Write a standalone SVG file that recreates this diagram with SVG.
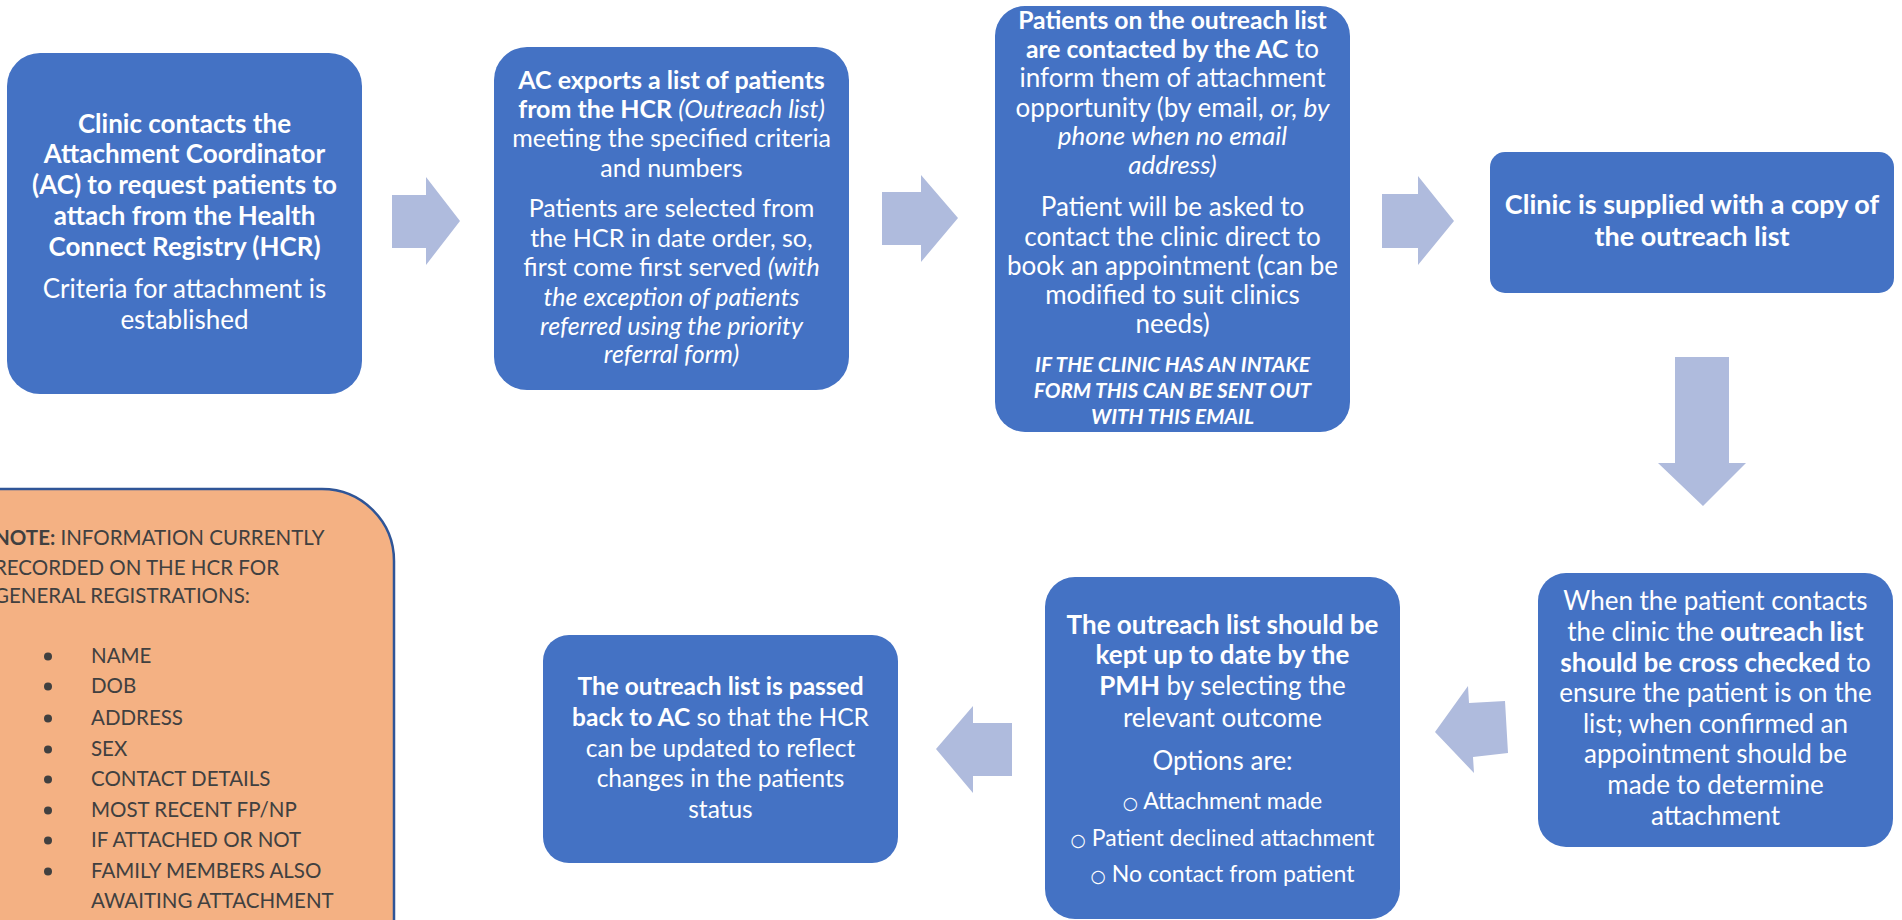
<svg xmlns="http://www.w3.org/2000/svg" width="1902" height="920" viewBox="0 0 1902 920">
<style>
.box{fill:#4472C4}
.arrow{fill:#AFBBDD}
.t{font-family:Lato,'Liberation Sans',sans-serif;font-size:26px;fill:#FFFFFF;text-anchor:middle}
.f25{font-size:25px}
.f247{font-size:24.7px}
.f245{font-size:24.5px}
.opt{font-size:23px}
.b{font-weight:700}
.i{font-style:italic}
.sm{font-size:20.8px}
.big{font-size:27px}
.o{font-family:'DejaVu Sans',sans-serif;font-size:17.5px}
.note{fill:#F4B183;stroke:#2F5597;stroke-width:2.5}
.nt{font-family:Lato,'Liberation Sans',sans-serif;font-size:20.5px;fill:#404040}
.dot{fill:#404040}
</style>
<rect width="1902" height="920" fill="#FFFFFF"/>

<g id="connectors">
  <polygon class="arrow" points="392,195 426,195 426,177 460,221 426,265 426,248 392,248"/>
  <polygon class="arrow" points="882,192 921,192 921,175 958,218 921,262 921,245 882,245"/>
  <polygon class="arrow" points="1382,194 1418,194 1418,176 1454,221 1418,265 1418,248 1382,248"/>
  <polygon class="arrow" points="1675,357 1729,357 1729,463 1746,463 1703,506 1658,463 1675,463"/>
  <polygon class="arrow" points="1435,732 1468,686 1469,703 1505,701 1508,753 1473,757 1474,773"/>
  <polygon class="arrow" points="1012,723 973,723 973,706 936,749 973,793 973,776 1012,776"/>
</g>

<g id="node-clinic-contacts">
  <rect class="box" x="7" y="53" width="355" height="341" rx="33"/>
  <text class="t b" x="184.5" y="133">Clinic contacts the</text>
  <text class="t b" x="184.5" y="163">Attachment Coordinator</text>
  <text class="t b" x="184.5" y="194">(AC) to request patients to</text>
  <text class="t b" x="184.5" y="225">attach from the Health</text>
  <text class="t b" x="184.5" y="256">Connect Registry (HCR)</text>
  <text class="t" x="184.5" y="298">Criteria for attachment is</text>
  <text class="t" x="184.5" y="329">established</text>
</g>

<g id="node-ac-exports">
  <rect class="box" x="494" y="47" width="355" height="343" rx="33"/>
  <text class="t f25 b" x="671.5" y="89">AC exports a list of patients</text>
  <text class="t f25" x="671.5" y="118"><tspan class="b">from the HCR </tspan><tspan class="i">(Outreach list)</tspan></text>
  <text class="t f25" x="671.5" y="147">meeting the specified criteria</text>
  <text class="t f25" x="671.5" y="177">and numbers</text>
  <text class="t f25" x="671.5" y="217">Patients are selected from</text>
  <text class="t f25" x="671.5" y="247">the HCR in date order, so,</text>
  <text class="t f25" x="671.5" y="276">first come first served <tspan class="i">(with</tspan></text>
  <text class="t f25 i" x="671.5" y="306">the exception of patients</text>
  <text class="t f25 i" x="671.5" y="335">referred using the priority</text>
  <text class="t f25 i" x="671.5" y="363">referral form)</text>
</g>

<g id="node-patients-contacted">
  <rect class="box" x="995" y="6" width="355" height="426" rx="30"/>
  <text class="t b f247" x="1172.5" y="29">Patients on the outreach list</text>
  <text class="t" x="1172.5" y="58"><tspan class="b f247">are contacted by the AC</tspan> to</text>
  <text class="t" x="1172.5" y="87">inform them of attachment</text>
  <text class="t" x="1172.5" y="117">opportunity (by email, <tspan class="i">or, by</tspan></text>
  <text class="t i" x="1172.5" y="145">phone when no email</text>
  <text class="t i" x="1172.5" y="174">address)</text>
  <text class="t" x="1172.5" y="216">Patient will be asked to</text>
  <text class="t" x="1172.5" y="246">contact the clinic direct to</text>
  <text class="t" x="1172.5" y="275">book an appointment (can be</text>
  <text class="t" x="1172.5" y="304">modified to suit clinics</text>
  <text class="t" x="1172.5" y="333">needs)</text>
  <text class="t b i sm" x="1172.5" y="372">IF THE CLINIC HAS AN INTAKE</text>
  <text class="t b i sm" x="1172.5" y="398">FORM THIS CAN BE SENT OUT</text>
  <text class="t b i sm" x="1172.5" y="424">WITH THIS EMAIL</text>
</g>

<g id="node-clinic-supplied">
  <rect class="box" x="1490" y="152" width="404" height="141" rx="15"/>
  <text class="t b big" x="1692" y="214">Clinic is supplied with a copy of</text>
  <text class="t b big" x="1692" y="246">the outreach list</text>
</g>

<g id="node-patient-contacts">
  <rect class="box" x="1538" y="573" width="355" height="274" rx="28"/>
  <text class="t" x="1715.5" y="610">When the patient contacts</text>
  <text class="t" x="1715.5" y="641">the clinic the <tspan class="b">outreach list</tspan></text>
  <text class="t" x="1715.5" y="672"><tspan class="b">should be cross checked</tspan> to</text>
  <text class="t" x="1715.5" y="702">ensure the patient is on the</text>
  <text class="t" x="1715.5" y="733">list; when confirmed an</text>
  <text class="t" x="1715.5" y="763">appointment should be</text>
  <text class="t" x="1715.5" y="794">made to determine</text>
  <text class="t" x="1715.5" y="825">attachment</text>
</g>

<g id="node-kept-up-to-date">
  <rect class="box" x="1045" y="577" width="355" height="342" rx="30"/>
  <text class="t b" x="1222.5" y="634">The outreach list should be</text>
  <text class="t b" x="1222.5" y="664">kept up to date by the</text>
  <text class="t" x="1222.5" y="695"><tspan class="b">PMH</tspan> by selecting the</text>
  <text class="t" x="1222.5" y="727">relevant outcome</text>
  <text class="t" x="1222.5" y="770">Options are:</text>
  <text class="t opt" x="1222.5" y="809"><tspan class="o">○</tspan> Attachment made</text>
  <text class="t opt" x="1222.5" y="846"><tspan class="o">○</tspan> Patient declined attachment</text>
  <text class="t opt" x="1222.5" y="882"><tspan class="o">○</tspan> No contact from patient</text>
</g>

<g id="node-passed-back">
  <rect class="box" x="543" y="635" width="355" height="228" rx="26"/>
  <text class="t f245" x="720.5" y="695"><tspan class="b">The outreach list is passed</tspan></text>
  <text class="t f245" x="720.5" y="726"><tspan class="b">back to AC</tspan> so that the HCR</text>
  <text class="t f245" x="720.5" y="757">can be updated to reflect</text>
  <text class="t f245" x="720.5" y="787">changes in the patients</text>
  <text class="t f245" x="720.5" y="818">status</text>
</g>

<g id="node-note">
  <rect class="note" x="-100" y="489" width="494" height="600" rx="72"/>
  <text class="nt" x="-6" y="545"><tspan font-weight="700">NOTE:</tspan> INFORMATION CURRENTLY</text>
  <text class="nt" x="-6" y="575">RECORDED ON THE HCR FOR</text>
  <text class="nt" x="-6" y="603">GENERAL REGISTRATIONS:</text>
  <circle class="dot" cx="48" cy="656.5" r="4"/>
  <text class="nt" x="91" y="663">NAME</text>
  <circle class="dot" cx="48" cy="686.5" r="4"/>
  <text class="nt" x="91" y="693">DOB</text>
  <circle class="dot" cx="48" cy="718.5" r="4"/>
  <text class="nt" x="91" y="725">ADDRESS</text>
  <circle class="dot" cx="48" cy="749.5" r="4"/>
  <text class="nt" x="91" y="756">SEX</text>
  <circle class="dot" cx="48" cy="779.5" r="4"/>
  <text class="nt" x="91" y="786">CONTACT DETAILS</text>
  <circle class="dot" cx="48" cy="810.5" r="4"/>
  <text class="nt" x="91" y="817">MOST RECENT FP/NP</text>
  <circle class="dot" cx="48" cy="840.5" r="4"/>
  <text class="nt" x="91" y="847">IF ATTACHED OR NOT</text>
  <circle class="dot" cx="48" cy="871.5" r="4"/>
  <text class="nt" x="91" y="878">FAMILY MEMBERS ALSO</text>
  <text class="nt" x="91" y="908">AWAITING ATTACHMENT</text>
</g>
</svg>
